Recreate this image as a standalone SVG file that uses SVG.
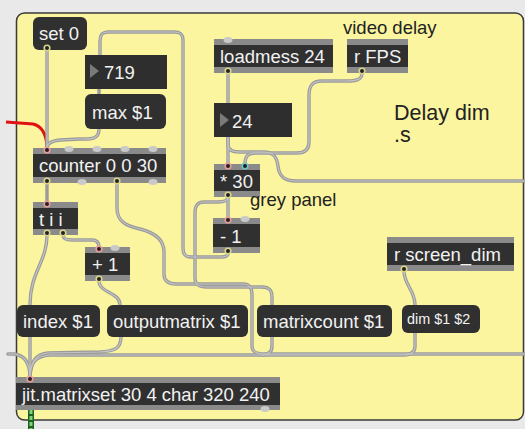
<svg xmlns="http://www.w3.org/2000/svg" width="525" height="429" viewBox="0 0 525 429">
<style>
.t{font-family:"Liberation Sans",Arial,sans-serif;font-size:18.5px;fill:#f2f2f2}
.c{font-family:"Liberation Sans",Arial,sans-serif;fill:#222}
.strip{fill:#8a8a8a}
.body{fill:#303030}
.msg{fill:#303030}
.num{fill:#2e2e2e}
.tri{fill:#7a7a7a}
.bump{fill:#c9c9c9}
.in{fill:#222;stroke:#e99a9a;stroke-width:1.6}
.in2{fill:#222;stroke:#6cc6c6;stroke-width:1.6}
.out{fill:#222;stroke:#d8d48a;stroke-width:1.6}
.cord{fill:none;stroke:#9a9a9a;stroke-width:3.4;stroke-linecap:round;stroke-linejoin:round}
.hl{fill:none;stroke:#c4c4c4;stroke-width:1.2}
</style>
<rect x="0" y="0" width="525" height="429" fill="#e9e9e9"/>
<rect id="panel" x="16.5" y="13" width="507" height="407" rx="8" fill="#fbf59f" stroke="#3a3a3a" stroke-width="1.5"/>
<g id="connectors">
<path d="M6,122 L33,124 Q46,127 47,147" fill="none" stroke="#e01212" stroke-width="3"/>
<g class="cord">
<path id="c1" d="M47,50 L47,148"/>
<path id="c2" d="M99,89 L99,94"/>
<path id="c3" d="M99,129 C99,140 90,139 80,139 L60,140 C50,141 47,144 47,148"/>
<path id="c4" d="M228,253 C228,257 224,257 218,257 L191,257 C185,257 183,254 183,248 L183,40 C183,34 180,32 174,32 L108,32 C102,32 100,35 100,41 L100,55"/>
<path id="c5" d="M47,183 L47,202"/>
<path id="c6" d="M117,183 L117,208 C117,222 127,226 140,229 C156,233 164,240 164,252 L164,274 C164,281 168,284 176,284 L243,284 C250,284 252,288 252,295 L252,346 C252,352 256,354 264,354 L525,354"/>
<path id="c7" d="M47,235 C47,262 30,272 30,305"/>
<path id="c8" d="M63,235 C63,239 66,240 72,240 L92,240 C97,240 99,243 99,247"/>
<path id="c9" d="M99,281 C99,293 120,292 120,305"/>
<path id="c10" d="M30,337 L30,378"/>
<path id="c11" d="M121,337 C121,349 114,351 100,352 L48,353 C36,354 30,362 30,378"/>
<path id="c12" d="M228,73 L228,103"/>
<path id="c13" d="M228,137 L228,164"/>
<path id="c14" d="M228,137 L228,145 C228,150 232,152 240,152 L264,152 C274,152 277,158 278,166 C279,176 284,181 296,181 L525,181"/>
<path id="c15" d="M362,73 C362,80 356,81 346,81 L322,81 C312,81 309,86 309,96 L309,142 C309,149 305,153 297,153 L256,153 C248,153 245,156 245,164"/>
<path id="c16" d="M228,197 L228,218"/>
<path id="c17" d="M228,197 C228,201 224,202 218,202 L204,202 C197,202 195,206 195,213 L195,278 C195,285 199,287 207,287 L262,287 C269,287 272,290 272,297 L272,346 C272,352 269,355 262,355 L50,355 C36,356 30,362 30,378"/>
<path id="c18" d="M404,271 C404,285 415,290 415,305 L415,346 C415,352 411,355 404,355 L262,355"/>
<path id="c19" d="M8,354 L14,354 C24,355 30,362 30,378"/>
</g>
<g class="hl">
<use href="#c1"/><use href="#c3"/><use href="#c4"/><use href="#c6"/><use href="#c7"/><use href="#c8"/><use href="#c9"/><use href="#c10"/><use href="#c11"/><use href="#c12"/><use href="#c13"/><use href="#c14"/><use href="#c15"/><use href="#c16"/><use href="#c17"/><use href="#c18"/><use href="#c19"/>
</g>
<path d="M31,410 L31,429" stroke="#1f5f1f" stroke-width="6" fill="none"/>
<path d="M31,410 L31,429" stroke="#7fd07f" stroke-width="3" stroke-dasharray="4 2" fill="none"/>
</g>

<g id="n-set0"><rect class="msg" x="33" y="17" width="54" height="33" rx="6"/><text class="t" x="39" y="40">set 0</text><circle class="out" cx="47" cy="48" r="2.8"/></g>

<g id="n-719"><rect class="num" x="85" y="55" width="82" height="34"/><polygon class="tri" points="90,64 99,71 90,78"/><text class="t" x="104" y="79">719</text></g>

<g id="n-max"><rect class="msg" x="85" y="94" width="81" height="35" rx="6"/><text class="t" x="92" y="119">max $1</text></g>

<g id="n-counter"><rect class="strip" x="33" y="148" width="133" height="35"/><rect class="body" x="33" y="154" width="133" height="23"/>
<ellipse class="bump" cx="69" cy="149" rx="4.5" ry="3"/><ellipse class="bump" cx="97" cy="149" rx="4.5" ry="3"/><ellipse class="bump" cx="125" cy="149" rx="4.5" ry="3"/><ellipse class="bump" cx="153" cy="149" rx="4.5" ry="3"/>
<ellipse class="bump" cx="82" cy="182" rx="4.5" ry="3"/><ellipse class="bump" cx="153" cy="182" rx="4.5" ry="3"/>
<circle class="in" cx="47" cy="150" r="2.8"/><circle class="out" cx="47" cy="181" r="2.8"/><circle class="out" cx="117" cy="181" r="2.8"/>
<text class="t" x="39" y="172">counter 0 0 30</text></g>

<g id="n-loadmess"><rect class="strip" x="214" y="39" width="119" height="34"/><rect class="body" x="214" y="45" width="119" height="22"/><ellipse class="bump" cx="228" cy="40" rx="4.5" ry="3"/><circle class="out" cx="228" cy="71" r="2.8"/><text class="t" x="220" y="63">loadmess 24</text></g>

<g id="n-rfps"><rect class="strip" x="347" y="39" width="61" height="34"/><rect class="body" x="347" y="45" width="61" height="22"/><circle class="out" cx="362" cy="71" r="2.8"/><text class="t" x="354" y="63">r FPS</text></g>

<g id="n-24"><rect class="num" x="214" y="103" width="78" height="34"/><polygon class="tri" points="220,113 229,120 220,127"/><text class="t" x="232" y="128">24</text></g>

<g id="n-mul30"><rect class="strip" x="214" y="164" width="46" height="33"/><rect class="body" x="214" y="170" width="46" height="21"/><circle class="in" cx="228" cy="166" r="2.8"/><circle class="in2" cx="245" cy="166" r="2.8"/><circle class="out" cx="228" cy="195" r="2.8"/><text class="t" x="220" y="188">* 30</text></g>

<g id="n-minus1"><rect class="strip" x="213" y="218" width="47" height="35"/><rect class="body" x="213" y="224" width="47" height="23"/><ellipse class="bump" cx="245" cy="219" rx="4.5" ry="3"/><circle class="in" cx="228" cy="220" r="2.8"/><circle class="out" cx="228" cy="251" r="2.8"/><text class="t" x="220" y="243">- 1</text></g>

<g id="n-tii"><rect class="strip" x="33" y="202" width="45" height="33"/><rect class="body" x="33" y="208" width="45" height="21"/><circle class="in" cx="47" cy="204" r="2.8"/><circle class="out" cx="47" cy="233" r="2.8"/><circle class="out" cx="63" cy="233" r="2.8"/><text class="t" x="39" y="226">t i i</text></g>

<g id="n-plus1"><rect class="strip" x="85" y="247" width="45" height="34"/><rect class="body" x="85" y="253" width="45" height="22"/><ellipse class="bump" cx="115" cy="248" rx="4.5" ry="3"/><circle class="in" cx="99" cy="249" r="2.8"/><circle class="out" cx="99" cy="279" r="2.8"/><text class="t" x="92" y="271">+ 1</text></g>

<g id="n-rscreen"><rect class="strip" x="387" y="237" width="127" height="34"/><rect class="body" x="387" y="243" width="127" height="22"/><circle class="out" cx="404" cy="269" r="2.8"/><text class="t" x="394" y="261">r screen_dim</text></g>

<g id="n-index"><rect class="msg" x="17" y="305" width="83" height="32" rx="6"/><text class="t" x="23" y="328">index $1</text></g>

<g id="n-outputmatrix"><rect class="msg" x="107" y="305" width="141" height="32" rx="6"/><text class="t" x="113" y="328">outputmatrix $1</text></g>

<g id="n-matrixcount"><rect class="msg" x="257" y="305" width="135" height="32" rx="6"/><text class="t" x="263" y="328">matrixcount $1</text></g>

<g id="n-dim"><rect class="msg" x="402" y="305" width="78" height="28" rx="6"/><text class="t" x="407" y="324" style="font-size:14.4px">dim $1 $2</text></g>

<g id="n-jit"><rect class="strip" x="16" y="377" width="264" height="33"/><rect class="body" x="16" y="383" width="264" height="22"/><ellipse class="bump" cx="265" cy="409" rx="4.5" ry="3"/><circle class="in" cx="30" cy="379" r="2.8"/><text class="t" x="22" y="401">jit.matrixset 30 4 char 320 240</text></g>

<g id="comments">
<text class="c" x="343" y="34" font-size="18.5">video delay</text>
<text class="c" x="394" y="120" font-size="21.5">Delay dim</text>
<text class="c" x="394" y="142" font-size="21.5">.s</text>
<text class="c" x="250" y="206" font-size="18.5">grey panel</text>
</g>
</svg>
